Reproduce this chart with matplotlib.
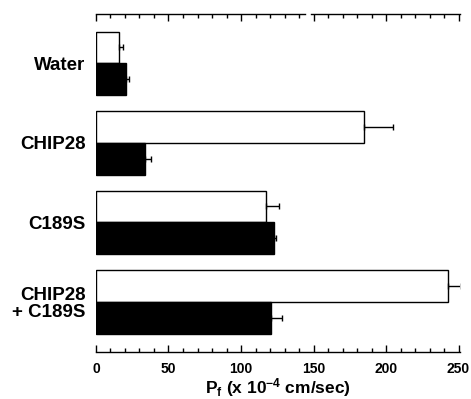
import numpy as np
import matplotlib
matplotlib.use('Agg')
import matplotlib.pyplot as plt
from matplotlib.ticker import MultipleLocator

plt.rcParams['font.family'] = ['Liberation Sans', 'DejaVu Sans']
plt.rcParams['font.weight'] = 'bold'
plt.rcParams['mathtext.fontset'] = 'custom'
plt.rcParams['mathtext.rm'] = 'Liberation Sans:bold'
plt.rcParams['mathtext.it'] = 'Liberation Sans:bold'
plt.rcParams['mathtext.bf'] = 'Liberation Sans:bold'

# values (Pf, x 10^-4 cm/sec)
categories = ["Water", "CHIP28", "C189S", "CHIP28\n+ C189S"]
white_vals = [16, 185, 117, 243]
white_err = [2.5, 20, 9, 9]
black_vals = [21, 34, 123, 121]
black_err = [1.5, 4, 1, 7]

fig = plt.figure(figsize=(4.71, 3.99), dpi=100)
ax = fig.add_axes([0.2038, 0.1178, 0.7728, 0.8471])

pos = np.arange(len(categories))
h = 0.4

ax.barh(pos - h / 2, white_vals, height=h, color='white', edgecolor='black', linewidth=1)
ax.barh(pos + h / 2, black_vals, height=h, color='black', edgecolor='black', linewidth=1)

# one-sided error bars
ax.errorbar(white_vals, pos - h / 2, xerr=[np.zeros(len(white_err)), white_err],
            fmt='none', ecolor='black', elinewidth=1, capsize=2, capthick=1)
ax.errorbar(black_vals, pos + h / 2, xerr=[np.zeros(len(black_err)), black_err],
            fmt='none', ecolor='black', elinewidth=1, capsize=2, capthick=1)

ax.set_xlim(0, 251)
ax.set_ylim(3.63, -0.62)

ax.set_yticks(pos)
ax.set_yticklabels(categories, fontsize=13.5, fontweight='bold', ha='right', linespacing=1.0)
ax.tick_params(axis='y', left=False, pad=4)

ax.xaxis.set_major_locator(MultipleLocator(50))
ax.xaxis.set_minor_locator(MultipleLocator(10))
ax.tick_params(axis='x', which='both', direction='in', top=True, bottom=True,
               labeltop=False, width=1, pad=7, labelsize=10)
ax.tick_params(axis='x', which='major', length=5)
ax.tick_params(axis='x', which='minor', length=3)

for s in ['left', 'right', 'top']:
    ax.spines[s].set_visible(False)
ax.spines['bottom'].set_linewidth(1)

# top axis line, drawn with a small break
tr = ax.get_xaxis_transform()
ax.plot([0, 144], [1, 1], color='black', lw=1, transform=tr, clip_on=False)
ax.plot([148, 251], [1, 1], color='black', lw=1, transform=tr, clip_on=False)

ax.set_xlabel(r"P$_{\mathrm{f}}$ (x 10$^{\mathrm{-4}}$ cm/sec)", fontsize=12.5, fontweight='bold', labelpad=0)

fig.savefig('out.png', dpi=100)
